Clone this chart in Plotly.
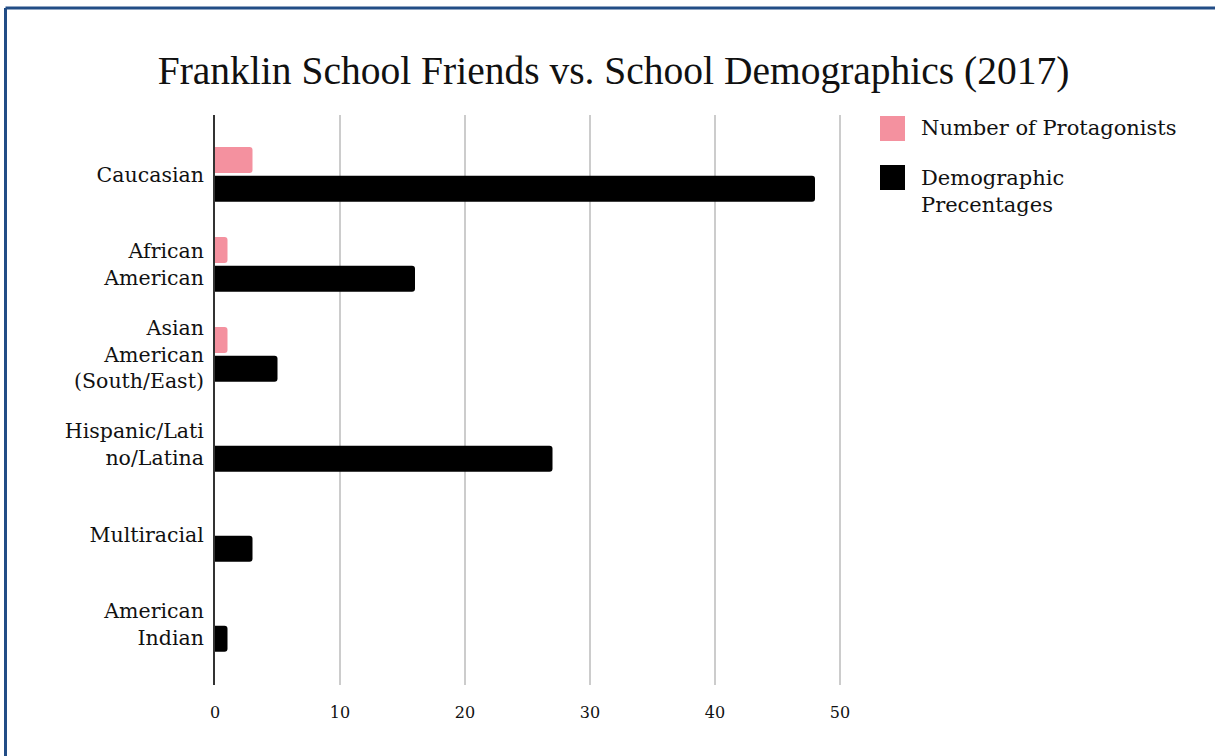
import plotly.graph_objects as go

categories = ["Caucasian", "African<br>American", "Asian<br>American<br>(South/East)",
              "Hispanic/Lati<br>no/Latina", "Multiracial", "American<br>Indian"]
protagonists = [3, 1, 1, 0, 0, 0]
demographics = [48, 16, 5, 27, 3, 1]
x_ticks = [0, 10, 20, 30, 40, 50]
series_names = ["Number of Protagonists", "Demographic<br>Precentages"]

PINK = "#f4919f"
BLACK = "#000000"
SERIF = "DejaVu Serif"
TEXT = "#111111"

W, H = 1215, 756
L, R, T, B = 215, 865, 115, 685

def px(x):
    return (x - L) / (R - L)

def py(y):
    return (B - y) / (B - T)

fig = go.Figure()
fig.add_trace(go.Bar(y=categories, x=protagonists, orientation="h", name=series_names[0],
                     marker=dict(color=PINK, cornerradius=3, line=dict(width=0)),
                     showlegend=False))
fig.add_trace(go.Bar(y=categories, x=demographics, orientation="h", name=series_names[1],
                     marker=dict(color=BLACK, cornerradius=3, line=dict(width=0)),
                     showlegend=False))

shapes = [
    # frame
    dict(type="line", xref="paper", yref="paper", x0=px(5.5), x1=px(1300), y0=py(8), y1=py(8),
         line=dict(color="#224d86", width=3)),
    dict(type="line", xref="paper", yref="paper", x0=px(5.5), x1=px(5.5), y0=py(8), y1=py(800),
         line=dict(color="#224d86", width=3)),
    # legend swatches
    dict(type="rect", xref="paper", yref="paper", x0=px(880), x1=px(905), y0=py(141), y1=py(116),
         fillcolor=PINK, line=dict(width=0)),
    dict(type="rect", xref="paper", yref="paper", x0=px(880), x1=px(905), y0=py(190), y1=py(165),
         fillcolor=BLACK, line=dict(width=0)),
]

annotations = [
    dict(text=series_names[0], xref="paper", yref="paper", x=px(919), y=py(128),
         xanchor="left", yanchor="middle", showarrow=False, align="left",
         font=dict(family=SERIF, size=21, color=TEXT)),
    dict(text=series_names[1], xref="paper", yref="paper", x=px(919), y=py(191),
         xanchor="left", yanchor="middle", showarrow=False, align="left",
         font=dict(family=SERIF, size=21, color=TEXT)),
]

fig.update_layout(
    width=W, height=H,
    margin=dict(l=L, r=W - R, t=T, b=H - B, pad=0),
    paper_bgcolor="white", plot_bgcolor="white",
    barmode="group", bargap=0.36, bargroupgap=0.1,
    title=dict(text="Franklin School Friends vs. School Demographics (2017)",
               x=0.505, xanchor="center", y=1 - 70 / H, yanchor="middle",
               font=dict(family="Liberation Serif", size=39.5, color=TEXT)),
    xaxis=dict(range=[0, 52], tickvals=x_ticks, ticktext=[str(v) for v in x_ticks],
               showgrid=True, gridcolor="#cccccc", gridwidth=1.5, zeroline=False,
               showline=False, ticks="", tickfont=dict(family=SERIF, size=16, color=TEXT),
               ticklabelstandoff=16),
    yaxis=dict(range=[5.673, -0.66], showgrid=False, zeroline=False,
               showline=True, linecolor="#333", linewidth=2, ticks="",
               tickfont=dict(family=SERIF, size=20.5, color=TEXT), ticklabelstandoff=5),
    shapes=shapes, annotations=annotations,
    showlegend=False,
)

fig.write_html("out.html")
